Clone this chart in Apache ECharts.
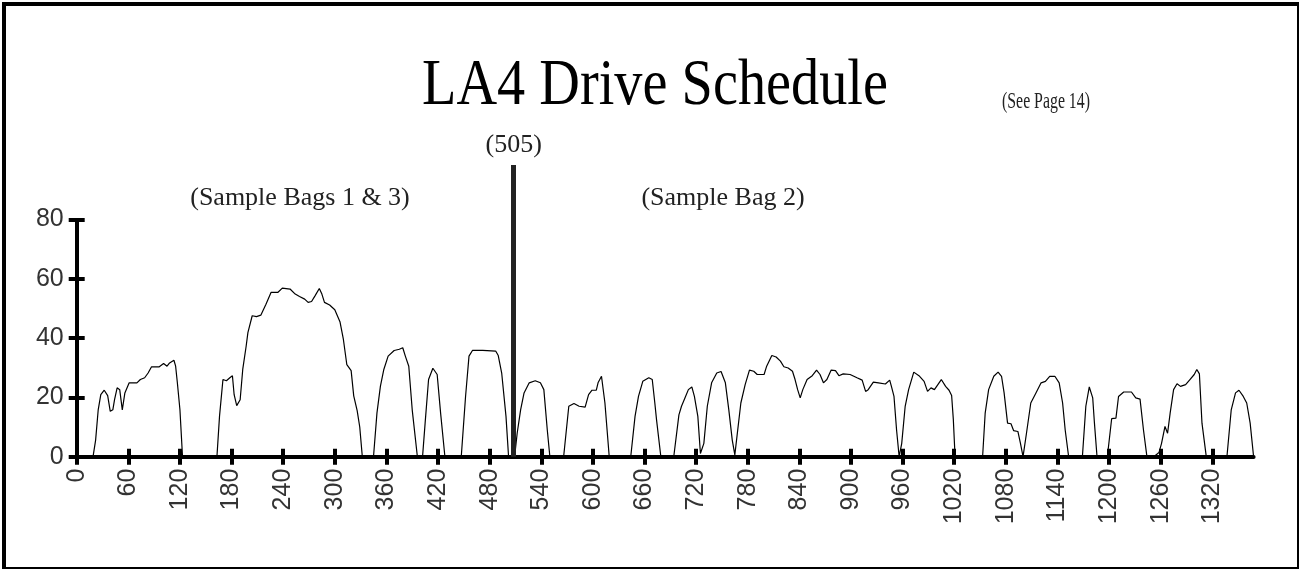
<!DOCTYPE html>
<html>
<head>
<meta charset="utf-8">
<title>LA4 Drive Schedule</title>
<script src="https://cdn.jsdelivr.net/npm/echarts@6/dist/echarts.min.js"></script>
<style>
html, body { margin: 0; padding: 0; background: #fff; }
#chart { position: absolute; left: 0; top: 0; width: 1301px; height: 571px; }
#frame { position: absolute; left: 2px; top: 2px; width: 1297px; height: 567px; box-sizing: border-box;
	border-style: solid; border-color: #000; border-width: 4px 2px 2px 4px; pointer-events: none; }
</style>
</head>
<body>
<div id="chart"></div>
<div id="frame"></div>
<script>
//时间 (s)
const times = [0, 19, 22, 25, 28, 32, 36, 39, 42, 44, 47, 50, 53, 56, 61, 70, 74, 79, 83, 87, 96, 101, 105, 108, 113, 115, 117, 120, 123,
	163, 166, 170, 174, 178, 181, 183, 186, 190, 193, 197, 199, 204, 209, 214, 220, 226, 234, 239, 248, 254, 259, 265, 269, 273, 277, 282, 285, 288, 294, 300, 306, 310, 314, 319, 322, 326, 329, 332,
	345, 349, 353, 357, 362, 369, 375, 379, 382, 386, 390, 396,
	402, 405, 409, 414, 419, 423, 428,
	447, 452, 456, 460, 472, 487, 490, 494, 499, 502,
	509, 512, 516, 520, 526, 533, 539, 543, 547, 550,
	566, 572, 578, 584, 591, 595, 599, 604, 606, 610, 614, 619,
	644, 649, 653, 658, 665, 669, 672, 674, 679,
	694, 700, 703, 707, 711, 715, 718, 722, 725, 729, 733, 738, 744, 749, 754, 758, 762, 765, 767,
	772, 777, 782, 787, 791, 799, 802, 808, 813, 818, 822, 827, 832, 835, 838, 841, 844, 849, 855, 860, 864, 868, 872, 877, 882, 886, 891, 899, 907, 913, 917, 920, 926, 932, 940, 945, 947, 950, 953, 956,
	959, 963, 967, 973, 979, 985, 989, 993, 997, 1001, 1005, 1010, 1014, 1017, 1019, 1021,
	1053, 1056, 1060, 1066, 1071, 1075, 1078, 1082, 1086, 1089, 1094, 1097, 1100,
	1104, 1109, 1115, 1121, 1126, 1131, 1137, 1142, 1146, 1149, 1153,
	1169, 1173, 1177, 1181, 1183, 1186,
	1198, 1203, 1208, 1211, 1217, 1226, 1231, 1236, 1240, 1244,
	1252, 1258, 1261, 1265, 1268, 1271, 1275, 1279, 1283, 1289, 1294, 1299, 1302, 1305, 1308, 1313,
	1337, 1342, 1347, 1351, 1356, 1360, 1364, 1368];
//速度 (mph)
const speeds = [0, 0, 5.6, 15.8, 20.9, 22.4, 20.6, 15.3, 15.8, 19.2, 23.2, 22.6, 15.8, 21.5, 24.9, 24.9, 26, 26.6, 28.2, 30.3, 30.3, 31.4, 30.5, 31.6, 32.5, 30.5, 24.9, 15.8, 0,
	0, 13.6, 26, 25.6, 26.6, 27.3, 20.9, 17.2, 19.2, 29.4, 37.3, 41.8, 47.5, 47.2, 47.7, 51.4, 55.4, 55.4, 56.8, 56.5, 54.8, 54, 53.1, 52, 52.3, 54.2, 56.7, 54.8, 52, 51.1, 49.5, 45.5, 39.5, 31, 29, 20.5, 15.5, 10, 0,
	0, 14.7, 23.7, 29.4, 33.9, 35.8, 36.2, 36.7, 33.9, 30.5, 15.8, 0,
	0, 11.3, 26, 29.8, 27.7, 14.7, 0,
	0, 20.3, 33.9, 35.8, 35.8, 35.6, 34.1, 28.2, 13.6, 0,
	0, 7.9, 15.8, 21.5, 24.9, 25.6, 24.9, 22.6, 9, 0,
	0, 17, 17.9, 17, 16.7, 20.9, 22.4, 22.4, 24.9, 27.1, 18.1, 0,
	0, 13.6, 20.3, 25.4, 26.6, 26, 18.1, 12.4, 0,
	0, 14.1, 17, 19.8, 22.6, 23.5, 20.3, 13.6, 1.1, 4.5, 17, 24.9, 28.2, 28.7, 24.9, 15.8, 5.6, 0.6, 1.1,
	18.1, 24.3, 29.2, 28.8, 27.7, 27.7, 30.5, 34.1, 33.6, 32.2, 30.3, 29.9, 28.8, 26, 22.6, 19.8, 22.6, 26, 27.3, 29.2, 27.7, 24.9, 26, 29.2, 29, 27.3, 27.9, 27.7, 26.6, 25.8, 22, 22.6, 25.1, 24.9, 24.5, 25.8, 23.7, 20.3, 9, 0,
	4.5, 17, 22.6, 28.5, 27.3, 25.4, 22, 23.2, 22.6, 24.3, 26, 23.7, 22.4, 20.6, 12.4, 0,
	0, 14.7, 22.6, 27.1, 28.5, 27.1, 21.5, 11.3, 11.1, 8.8, 8.5, 4.5, 0,
	7.9, 18.1, 21.5, 24.9, 25.4, 27.1, 27.1, 24.9, 18.1, 9, 0,
	0, 17, 23.5, 19.8, 11.3, 0,
	0, 12.8, 13, 20.3, 21.8, 21.8, 19.8, 19.4, 9, 0,
	0, 1.4, 4.5, 10.2, 7.9, 14.7, 22.6, 24.6, 23.7, 24.3, 26, 27.7, 29.4, 27.9, 11.3, 0,
	0, 15.8, 21.5, 22.4, 20.3, 18.1, 11.3, 0];

const xTicks = [0, 60, 120, 180, 240, 300, 360, 420, 480, 540, 600, 660, 720, 780, 840, 900, 960, 1020, 1080, 1140, 1200, 1260, 1320];
const yTicks = [0, 20, 40, 60, 80];
const xMax = 1368;
const yAxisTop = 80;
//分隔线 bag 1 / bag 2
const bagSplit = 508;
const bagSplitTop = 98.3;
const bagSplitLabel = '(505)';

const tickStyle = { color: '#000', width: 4 };
const labelFont = { fontFamily: 'Liberation Sans', fontSize: 25, color: '#333', formatter: v => String(v) };

function xAxisOf(inside) {
	return {
		type: 'value', min: 0, max: xMax, position: 'bottom',
		axisLine: { show: !inside, onZero: false, lineStyle: { color: '#000', width: 4 } },
		axisTick: { show: true, inside: inside, length: 8, customValues: xTicks, lineStyle: tickStyle },
		axisLabel: inside ? { show: false } : Object.assign({ customValues: xTicks, rotate: 90, margin: 12 }, labelFont),
		splitLine: { show: false }
	};
}
function yAxisOf(inside) {
	return {
		type: 'value', min: 0, max: bagSplitTop, position: 'left',
		axisLine: { show: false },
		axisTick: { show: true, inside: inside, length: 8, customValues: yTicks, lineStyle: tickStyle },
		axisLabel: inside ? { show: false } : Object.assign({ customValues: yTicks, margin: 13 }, labelFont),
		splitLine: { show: false }
	};
}

let myChart = echarts.init(document.getElementById('chart'));
let option = {
	animation: false,
	backgroundColor: '#fff',
	grid: { left: 76.7, right: 47.4, top: 165, bottom: 114.3 },
	xAxis: [xAxisOf(false), xAxisOf(true)],
	yAxis: [yAxisOf(false), yAxisOf(true)],
	graphic: [
		{ type: 'text', x: 655, y: 87, scaleX: 0.853,
			style: { text: 'LA4 Drive Schedule', font: '66px "Liberation Serif"', fill: '#000', align: 'center', verticalAlign: 'middle' } },
		{ type: 'text', x: 1046, y: 102, scaleX: 0.66,
			style: { text: '(See Page 14)', font: '24px "Liberation Serif"', fill: '#222', align: 'center', verticalAlign: 'middle' } },
		{ type: 'text', x: 300, y: 198,
			style: { text: '(Sample Bags 1 & 3)', font: '26px "Liberation Serif"', fill: '#222', align: 'center', verticalAlign: 'middle' } },
		{ type: 'text', x: 723, y: 198,
			style: { text: '(Sample Bag 2)', font: '26px "Liberation Serif"', fill: '#222', align: 'center', verticalAlign: 'middle' } }
	],
	series: [{
		type: 'line',
		data: times.map((t, i) => [t, speeds[i]]),
		showSymbol: false,
		symbol: 'none',
		silent: true,
		z: 3,
		lineStyle: { color: '#000', width: 1.2 },
		markLine: {
			silent: true,
			symbol: ['none', 'none'],
			animation: false,
			data: [
				//y 轴线 (0 - 80)
				[{ coord: [0, 0], lineStyle: { color: '#000', width: 4, type: 'solid' }, label: { show: false } },
				 { coord: [0, yAxisTop], lineStyle: { color: '#000', width: 4, type: 'solid' }, label: { show: false } }],
				[{ coord: [bagSplit, 0], lineStyle: { color: '#222', width: 5, type: 'solid' },
					label: { show: true, position: 'end', formatter: bagSplitLabel, fontFamily: 'Liberation Serif', fontSize: 26, color: '#222', distance: 7 } },
				 { coord: [bagSplit, bagSplitTop], lineStyle: { color: '#222', width: 5, type: 'solid' },
					label: { show: true, position: 'end', formatter: bagSplitLabel, fontFamily: 'Liberation Serif', fontSize: 26, color: '#222', distance: 7 } }]
			]
		}
	}]
};
myChart.setOption(option);
</script>
</body>
</html>
